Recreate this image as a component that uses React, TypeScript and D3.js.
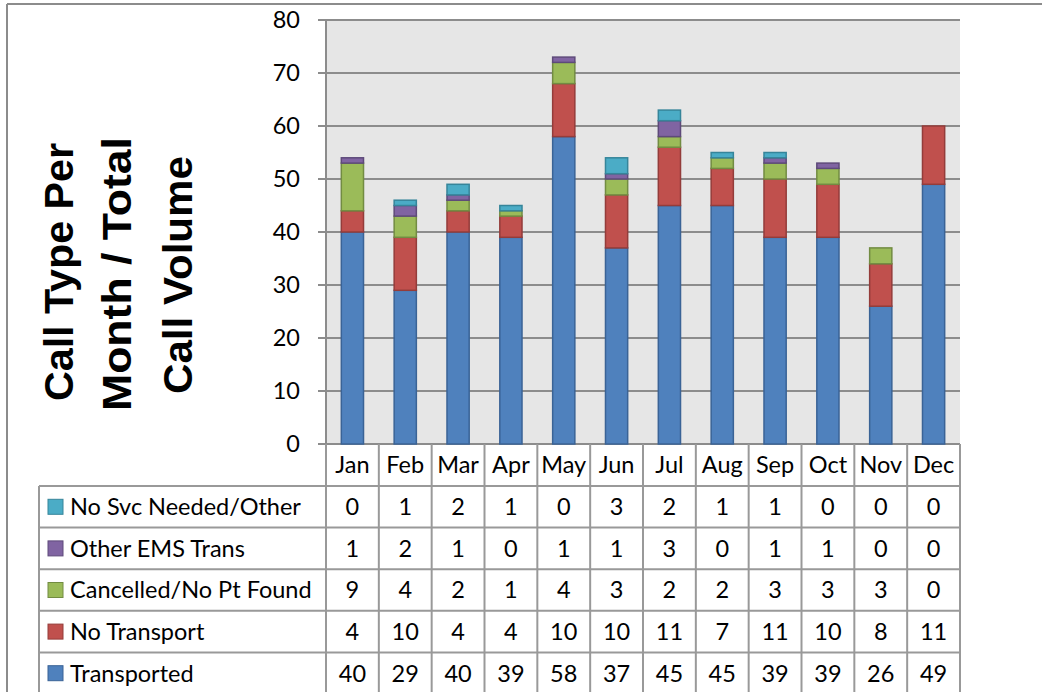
import React from "react";
import * as d3 from "d3";

const months = ["Jan","Feb","Mar","Apr","May","Jun","Jul","Aug","Sep","Oct","Nov","Dec"];
const noSvc = [0,1,2,1,0,3,2,1,1,0,0,0];
const otherEms = [1,2,1,0,1,1,3,0,1,1,0,0];
const cancelled = [9,4,2,1,4,3,2,2,3,3,3,0];
const noTransport = [4,10,4,4,10,10,11,7,11,10,8,11];
const transported = [40,29,40,39,58,37,45,45,39,39,26,49];
const yTicks = [0,10,20,30,40,50,60,70,80];
const titleLines = ["Call Type Per", "Month / Total", "Call Volume"];

const seriesNames = ["Transported","No Transport","Cancelled/No Pt Found","Other EMS Trans","No Svc Needed/Other"];
const seriesValues = [transported, noTransport, cancelled, otherEms, noSvc];
const fills = ["#4F81BD","#C0504D","#9BBB59","#8064A2","#4BACC6"];
const strokes = ["#3A6396","#943C3A","#728C42","#5E4A7A","#36859A"];

const FONT = "Lato, 'Open Sans', sans-serif";
const FS = 23.5;

export default function App() {
  const plotL = 326, plotR = 960, plotT = 20, plotB = 444;
  const tableL = 39, headerB = 486, rowH = 41.6;
  const x = d3.scaleBand<string>().domain(months).range([plotL, plotR]).paddingInner(0).paddingOuter(0);
  const y = d3.scaleLinear().domain([0, 80]).range([plotB, plotT]);
  const rows = months.map((m, i) => {
    const o: any = { month: m };
    seriesNames.forEach((s, k) => { o[s] = seriesValues[k][i]; });
    return o;
  });
  const stack = d3.stack<any>().keys(seriesNames)(rows);
  const bw = x.bandwidth() * 0.42;
  const tableOrder = [4, 3, 2, 1, 0];
  const gridColor = "#8C8C8C";
  const tableColor = "#999999";
  const titlePos = [
    { bx: 73, cy: 272, len: 258 },
    { bx: 131, cy: 274, len: 274 },
    { bx: 192, cy: 275, len: 238 },
  ];

  return (
    <svg width={1042} height={692} style={{ position: "absolute", left: 0, top: 0, background: "#fff" }} fontFamily={FONT}>
      {/* outer frame */}
      <line x1={7} x2={1042} y1={4} y2={4} stroke="#8C8C8C" strokeWidth={2} />
      <line x1={7} x2={7} y1={4} y2={692} stroke="#8C8C8C" strokeWidth={2} />

      {/* plot background */}
      <rect x={plotL} y={plotT} width={plotR - plotL} height={plotB - plotT} fill="#E6E6E6" />
      {yTicks.map(t => (
        <g key={t}>
          <line x1={318} x2={plotR} y1={y(t)} y2={y(t)} stroke={gridColor} strokeWidth={2} />
          <text x={300} y={y(t)} dy="0.36em" textAnchor="end" fontSize={FS} fill="#000">{t}</text>
        </g>
      ))}
      <line x1={plotL} x2={plotL} y1={plotT} y2={plotB} stroke={gridColor} strokeWidth={2} />

      {/* bars */}
      {stack.map((layer, k) => (
        <g key={k}>
          {layer.map((d, i) => (d[1] - d[0] > 0 ? (
            <rect key={i}
              x={(x(months[i]) as number) + (x.bandwidth() - bw) / 2}
              y={y(d[1])}
              width={bw}
              height={y(d[0]) - y(d[1])}
              fill={fills[k]} stroke={strokes[k]} strokeWidth={1.5} />
          ) : null))}
        </g>
      ))}

      {/* table */}
      <g>
        {months.map((m) => (
          <text key={m} x={(x(m) as number) + x.bandwidth() / 2} y={(plotB + headerB) / 2} dy="0.36em"
            textAnchor="middle" fontSize={FS} fill="#000">{m}</text>
        ))}
        {tableOrder.map((k, r) => {
          const top = headerB + r * rowH;
          const cy = top + rowH / 2;
          return (
            <g key={k}>
              <rect x={48} y={cy - 7.5} width={15} height={15} fill={fills[k]} stroke={strokes[k]} strokeWidth={1} />
              <text x={70} y={cy} dy="0.36em" fontSize={FS} fill="#000">{seriesNames[k]}</text>
              {seriesValues[k].map((v, i) => (
                <text key={i} x={(x(months[i]) as number) + x.bandwidth() / 2} y={cy} dy="0.36em"
                  textAnchor="middle" fontSize={FS} fill="#000">{v}</text>
              ))}
            </g>
          );
        })}
        {[0, 1, 2, 3, 4, 5].map(r => (
          <line key={r} x1={tableL} x2={plotR} y1={headerB + r * rowH} y2={headerB + r * rowH}
            stroke={tableColor} strokeWidth={2} />
        ))}
        {months.map((m) => (
          <line key={m} x1={x(m) as number} x2={x(m) as number} y1={plotB} y2={692} stroke={tableColor} strokeWidth={2} />
        ))}
        <line x1={plotR} x2={plotR} y1={plotB} y2={692} stroke={tableColor} strokeWidth={2} />
        <line x1={tableL} x2={tableL} y1={headerB} y2={692} stroke={tableColor} strokeWidth={2} />
      </g>

      {/* axis title */}
      {titleLines.map((line, i) => (
        <text key={i} transform={`translate(${titlePos[i].bx},${titlePos[i].cy}) rotate(-90)`}
          textAnchor="middle" fontFamily="'Liberation Sans', Arial, sans-serif" fontWeight="bold" fontSize={40}
          textLength={titlePos[i].len} lengthAdjust="spacingAndGlyphs" fill="#000">{line}</text>
      ))}
    </svg>
  );
}
